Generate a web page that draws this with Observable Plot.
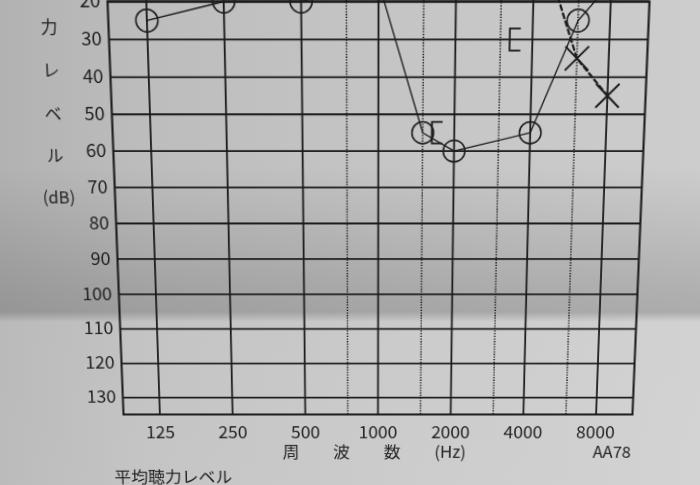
<!DOCTYPE html>
<html>
<head>
<meta charset="utf-8">
<script src="https://cdn.jsdelivr.net/npm/d3@7"></script>
<script src="https://cdn.jsdelivr.net/npm/@observablehq/plot@0.6"></script>
<style>
html, body { margin: 0; padding: 0; width: 700px; height: 485px; overflow: hidden; }
body {
  background:
    linear-gradient(180deg, rgba(0,0,0,0) 0px, rgba(0,0,0,0) 165px, rgba(0,0,0,0.08) 235px, rgba(0,0,0,0.14) 290px, rgba(0,0,0,0.16) 312px, rgba(255,255,255,0.10) 322px, rgba(255,255,255,0.12) 485px),
    linear-gradient(90deg, #b2b2b2 0px, #bdbdbd 150px, #c5c5c5 400px, #cdcdcd 700px);
}
#chart svg { display: block; transform-origin: 0 0; }
</style>
</head>
<body>
<div id="chart"></div>
<script>
// ---- data ----
const freqTicks = [125, 250, 500, 1000, 2000, 4000, 8000];
const freqTickLabels = ["125", "250", "500", "1000", "2000", "4000", "8000"];
const halfOctaves = [750, 1500, 3000, 6000];
const dbTicks = [20, 30, 40, 50, 60, 70, 80, 90, 100, 110, 120, 130];
const dbTickLabels = ["20", "30", "40", "50", "60", "70", "80", "90", "100", "110", "120", "130"];

const rightAirFreq = [125, 250, 500, 1000, 1500, 2000, 4000, 6000, 8000];
const rightAirDb   = [25, 20, 20, 15, 55, 60, 55, 25, 15];
const leftAirFreq  = [4000, 6000, 8000];
const leftAirDb    = [0, 35, 45];
const rightBoneFreq = [1500, 3000];
const rightBoneDb   = [55, 30];

const yTitleChars = ["聴", "力", "レ", "ベ", "ル"];
const yTitleDb    = [15.5, 27, 38.5, 50, 61.5];
const yTitleUnit = "(dB)";
const yTitleUnitDb = 73;
const xTitleChars = ["周", "波", "数", "(Hz)"];
const xTitleFreq  = [435, 705, 1145, 2000];
const cornerNote = "AA78";
const footNote = "平均聴力レベル";

// ---- build tables ----
const rightAir = rightAirFreq.map((f, i) => ({f, db: rightAirDb[i]}));
const leftAir = leftAirFreq.map((f, i) => ({f, db: leftAirDb[i]}));
const rightBone = rightBoneFreq.map((f, i) => ({f, db: rightBoneDb[i]}));

const ink = "#1c1c1c";
const digitFont = "'Liberation Sans Narrow', 'Noto Sans CJK JP', sans-serif";
const crossSymbol = {
  draw(ctx, size) {
    const r = Math.sqrt(size / Math.PI);
    ctx.moveTo(-r, -r); ctx.lineTo(r, r);
    ctx.moveTo(r, -r); ctx.lineTo(-r, r);
  }
};
const bracketSymbol = {
  draw(ctx, size) {
    const r = Math.sqrt(size / Math.PI);
    ctx.moveTo(r, -r); ctx.lineTo(0, -r); ctx.lineTo(0, r); ctx.lineTo(r, r);
  }
};

const W = 700, H = 500, mL = 116, mR = 60, mT = 1, mB = 86;

const plot = Plot.plot({
  width: W, height: H,
  marginLeft: mL, marginRight: mR, marginTop: mT, marginBottom: mB,
  style: {background: "transparent", fontFamily: "'Noto Sans CJK JP', 'Noto Sans', sans-serif", color: "#222"},
  x: {type: "log", domain: [125 / Math.SQRT2, 8000 * Math.SQRT2], axis: null},
  y: {domain: [20, 135], reverse: true, axis: null},
  marks: [
    Plot.ruleY(dbTicks, {y: d => d, stroke: ink, strokeWidth: 1.8}),
    Plot.ruleX(freqTicks, {x: d => d, y1: 135, y2: 0, stroke: ink, strokeWidth: 1.8}),
    Plot.ruleX(halfOctaves, {x: d => d, y1: 135, y2: 0, stroke: ink, strokeWidth: 1.5, strokeDasharray: "1.3,1.4"}),
    Plot.frame({stroke: ink, strokeWidth: 2.1}),
    // tick labels
    Plot.text(dbTicks, {y: d => d, text: dbTickLabels, frameAnchor: "left", textAnchor: "end", dx: -7, fontSize: 18, fontFamily: digitFont}),
    Plot.text(freqTicks, {x: d => d, text: freqTickLabels, frameAnchor: "bottom", dy: 25, fontSize: 18, fontFamily: digitFont}),
    Plot.text(xTitleChars, {x: xTitleFreq, text: d => d, frameAnchor: "bottom", dy: 46, fontSize: 17.5}),
    Plot.text([cornerNote], {text: d => d, frameAnchor: "bottom-right", textAnchor: "end", dy: 46, fontSize: 17, fontFamily: digitFont}),
    Plot.text([footNote], {text: d => d, frameAnchor: "bottom-left", textAnchor: "start", dx: -12, dy: 73, fontSize: 17.5}),
    Plot.text(yTitleChars, {y: yTitleDb, text: d => d, frameAnchor: "left", dx: -66, fontSize: 16.5}),
    Plot.text([yTitleUnit], {y: [yTitleUnitDb], text: d => d, frameAnchor: "left", dx: -72, fontSize: 16.5}),
    // right ear air conduction
    Plot.line(rightAir, {x: "f", y: "db", stroke: ink, strokeWidth: 1.3}),
    Plot.dot(rightAir, {x: "f", y: "db", r: 10.7, stroke: ink, strokeWidth: 1.5, fill: "none"}),
    // left ear air conduction
    Plot.line(leftAir, {x: "f", y: "db", stroke: ink, strokeWidth: 2.2, strokeDasharray: "4.5,3.5"}),
    Plot.dot(leftAir, {x: "f", y: "db", symbol: crossSymbol, r: 11.5, stroke: ink, strokeWidth: 1.9, fill: "none"}),
    // right ear bone conduction
    Plot.dot(rightBone, {x: "f", y: "db", symbol: bracketSymbol, r: 10.5, dx: 9, stroke: ink, strokeWidth: 1.8, fill: "none"})
  ]
});

document.getElementById("chart").appendChild(plot);

// ---- photo perspective: map the plot frame onto the photographed trapezoid ----
function solve(A, b) {
  const n = b.length;
  const M = A.map((row, i) => [...row, b[i]]);
  for (let c = 0; c < n; c++) {
    let p = c;
    for (let r = c + 1; r < n; r++) if (Math.abs(M[r][c]) > Math.abs(M[p][c])) p = r;
    [M[c], M[p]] = [M[p], M[c]];
    for (let r = 0; r < n; r++) {
      if (r === c) continue;
      const k = M[r][c] / M[c][c];
      for (let j = c; j <= n; j++) M[r][j] -= k * M[c][j];
    }
  }
  return M.map((row, i) => row[n] / row[i]);
}
const src = [[mL, mT], [W - mR, mT], [mL, H - mB], [W - mR, H - mB]];
const dst = [[107, 1], [649, 1], [123, 414], [632, 414]];
const A = [], b = [];
src.forEach(([u, v], i) => {
  const [x, y] = dst[i];
  A.push([u, v, 1, 0, 0, 0, -u * x, -v * x]); b.push(x);
  A.push([0, 0, 0, u, v, 1, -u * y, -v * y]); b.push(y);
});
const [a, bb, c, d, e, f, g, h] = solve(A, b);
plot.style.transform = `matrix3d(${a},${d},0,${g},${bb},${e},0,${h},0,0,1,0,${c},${f},0,1)`;
</script>
</body>
</html>
